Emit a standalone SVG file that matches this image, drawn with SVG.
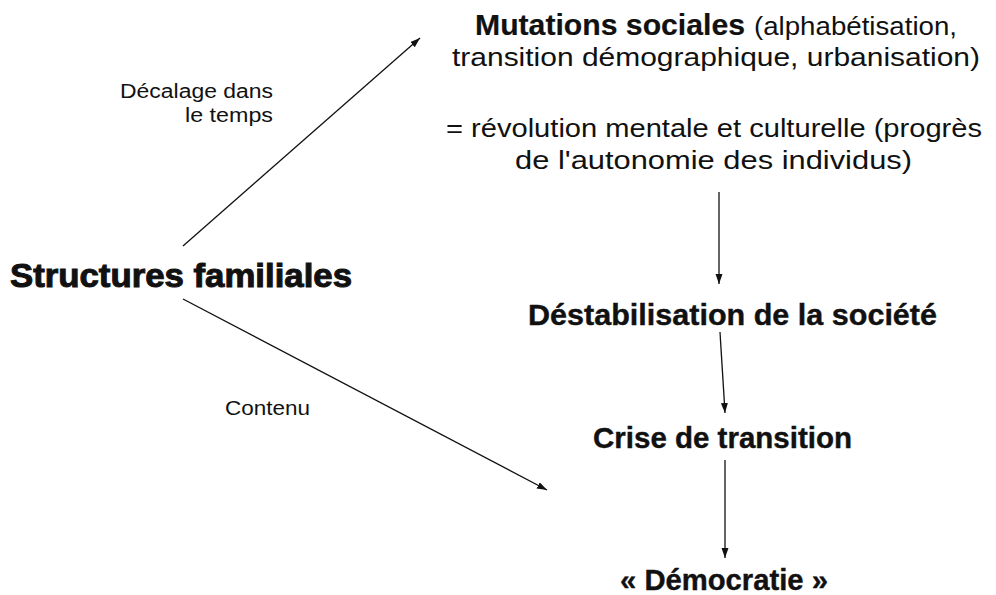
<svg xmlns="http://www.w3.org/2000/svg" width="996" height="595" viewBox="0 0 996 595">
<defs>
<style>
.b{font-family:"Liberation Sans",Arial,sans-serif;font-weight:bold;fill:#111;stroke:#111;stroke-width:0.4;}
.r{font-family:"Liberation Sans",Arial,sans-serif;fill:#111;}
.c{stroke:#111;stroke-width:1.3;fill:none;marker-end:url(#ah);}
</style>
<marker id="ah" markerUnits="userSpaceOnUse" markerWidth="12" markerHeight="10" refX="10" refY="3.5" orient="auto">
<path d="M0,0 L10,3.5 L0,7 Z" fill="#111"/>
</marker>
</defs>
<rect width="996" height="595" fill="#fff"/>
<g id="connectors">
<line class="c" x1="183" y1="246" x2="420" y2="38"/>
<line class="c" x1="183" y1="299" x2="547" y2="490"/>
<line class="c" x1="719" y1="192" x2="719" y2="284"/>
<line class="c" x1="720" y1="332" x2="725" y2="413"/>
<line class="c" x1="725" y1="460" x2="725" y2="558"/>
</g>
<g id="label-decalage">
<text class="r" font-size="20" x="273" y="98" text-anchor="end" textLength="153" lengthAdjust="spacingAndGlyphs">Décalage dans</text>
<text class="r" font-size="20" x="273" y="122" text-anchor="end" textLength="88" lengthAdjust="spacingAndGlyphs">le temps</text>
</g>
<g id="label-contenu">
<text class="r" font-size="20" x="225" y="415" textLength="85" lengthAdjust="spacingAndGlyphs">Contenu</text>
</g>
<g id="node-structures">
<text class="b" font-size="33" x="10" y="287" textLength="342" lengthAdjust="spacingAndGlyphs" style="stroke-width:1">Structures familiales</text>
</g>
<g id="node-mutations">
<text class="b" font-size="29" x="475" y="35" textLength="270" lengthAdjust="spacingAndGlyphs" style="stroke-width:0.2">Mutations sociales</text>
<text class="r" font-size="26" x="754" y="35" textLength="203" lengthAdjust="spacingAndGlyphs">(alphabétisation,</text>
<text class="r" font-size="26" x="452" y="66" textLength="528" lengthAdjust="spacingAndGlyphs">transition démographique, urbanisation)</text>
<text class="r" font-size="26" x="446" y="137" textLength="536" lengthAdjust="spacingAndGlyphs">= révolution mentale et culturelle (progrès</text>
<text class="r" font-size="26" x="515" y="169" textLength="397" lengthAdjust="spacingAndGlyphs">de l'autonomie des individus)</text>
</g>
<g id="node-destabilisation">
<text class="b" font-size="30" x="528" y="325" textLength="409" lengthAdjust="spacingAndGlyphs">Déstabilisation de la société</text>
</g>
<g id="node-crise">
<text class="b" font-size="30" x="593" y="448" textLength="259" lengthAdjust="spacingAndGlyphs">Crise de transition</text>
</g>
<g id="node-democratie">
<text class="b" font-size="30" x="620" y="590" textLength="208" lengthAdjust="spacingAndGlyphs">« Démocratie »</text>
</g>
</svg>
